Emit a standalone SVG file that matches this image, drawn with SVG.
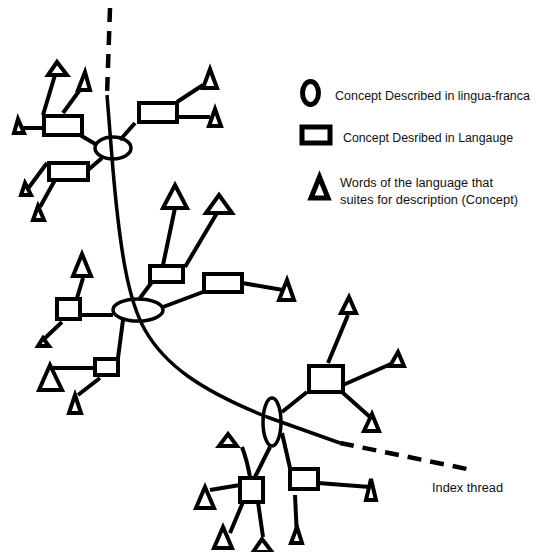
<svg xmlns="http://www.w3.org/2000/svg" width="536" height="552" viewBox="0 0 536 552">
<style>
.ln{stroke:#000;stroke-width:4;fill:none;stroke-linecap:butt}
.th{stroke:#000;stroke-width:3.5;fill:none}
.dash{stroke:#000;stroke-width:4.5;fill:none;stroke-dasharray:14 9}
.ell{fill:none;stroke:#000;stroke-width:3.5}
.rc{fill:#fff;stroke:#000;stroke-width:4}
.tri{fill:#fff;stroke:#000;stroke-width:4;stroke-linejoin:miter}
.txt{font-family:"Liberation Sans",Arial,sans-serif;font-size:12.5px;fill:#111}
</style>
<rect width="536" height="552" fill="#fff"/>
<g id="connectors">
<path class="dash" d="M110,8 L107,95"/>
<path class="th" d="M107,95 L113,170 C120,250 128,300 145,330 C165,365 200,390 267,417 L340,443"/>
<path class="dash" d="M340,443 L472,470"/>
<path class="ln" d="M80,135 L97,145 M135,123 L120,140 M88,170 L102,158 M43,115 L55,75 M63,113 L82,87 M18,128 L42,128 M177,102 L203,85 M177,117 L210,117 M47,163 L27,190 M55,180 L40,207"/>
<path class="ln" d="M140,298 L152,282 M163,265 L175,208 M185,267 L217,213 M163,307 L203,292 M242,283 L283,290 M80,315 L113,315 M77,298 L83,278 M62,322 L43,340 M123,320 L118,358 M93,368 L53,368 M100,378 L78,395"/>
<path class="ln" d="M282,412 L307,392 M328,363 L348,315 M343,385 L393,363 M342,392 L370,417 M270,447 L255,477 M242,447 Q247,460 250,477 M210,490 L240,485 M230,533 L243,502 M263,537 L258,502 M282,433 L290,468 M318,483 L370,487 M295,495 L297,537"/>
</g>
<g id="concept-top"><ellipse class="ell" cx="113" cy="148" rx="18" ry="11"/></g>
<g id="concept-middle"><ellipse class="ell" cx="138" cy="310" rx="25" ry="11"/></g>
<g id="concept-bottom"><ellipse class="ell" cx="272" cy="422" rx="9" ry="24"/></g>
<g id="rects">
<rect class="rc" x="44" y="116" width="38" height="19"/>
<rect class="rc" x="139" y="103" width="38" height="19"/>
<rect class="rc" x="49" y="163" width="39" height="17"/>
<rect class="rc" x="150" y="266" width="33" height="16"/>
<rect class="rc" x="204" y="274" width="38" height="18"/>
<rect class="rc" x="57" y="299" width="23" height="20"/>
<rect class="rc" x="95" y="359" width="23" height="16"/>
<rect class="rc" x="309" y="366" width="34" height="26"/>
<rect class="rc" x="240" y="478" width="23" height="24"/>
<rect class="rc" x="290" y="469" width="28" height="20"/>
</g>
<g id="words">
<polygon class="tri" points="57,62 67,75 48,75"/>
<polygon class="tri" points="85,72 90,90 78,90"/>
<polygon class="tri" points="18,119 24,133 14,133"/>
<polygon class="tri" points="210,69 217,88 203,88"/>
<polygon class="tri" points="215,109 221,126 209,126"/>
<polygon class="tri" points="25,183 31,195 21,195"/>
<polygon class="tri" points="38,206 44,220 33,220"/>
<polygon class="tri" points="175,185 187,208 163,208"/>
<polygon class="tri" points="219,195 232,213 206,213"/>
<polygon class="tri" points="287,280 294,300 279,300"/>
<polygon class="tri" points="82,254 91,276 73,276"/>
<polygon class="tri" points="43,338 49,346 38,346"/>
<polygon class="tri" points="50,365 62,390 39,390"/>
<polygon class="tri" points="75,395 81,413 69,413"/>
<polygon class="tri" points="349,297 356,313 341,313"/>
<polygon class="tri" points="398,352 404,366 390,366"/>
<polygon class="tri" points="372,414 379,431 364,431"/>
<polygon class="tri" points="228,434 237,446 219,446"/>
<polygon class="tri" points="205,487 214,508 196,508"/>
<polygon class="tri" points="223,527 232,548 214,548"/>
<polygon class="tri" points="262,539 272,552 253,552"/>
<polygon class="tri" points="371,479 376,500 366,500"/>
<polygon class="tri" points="297,527 302,543 291,543"/>
</g>
<g id="legend">
<ellipse cx="310.5" cy="93" rx="8" ry="11.5" fill="#fff" stroke="#000" stroke-width="5"/>
<text class="txt" x="335" y="100" textLength="195" lengthAdjust="spacingAndGlyphs">Concept Described in lingua-franca</text>
<rect x="302" y="127" width="28" height="16" fill="#fff" stroke="#000" stroke-width="5"/>
<text class="txt" x="343" y="142" textLength="170" lengthAdjust="spacingAndGlyphs">Concept Desribed in Langauge</text>
<polygon points="319.5,177 328,198 311,198" fill="#fff" stroke="#000" stroke-width="5"/>
<text class="txt" x="340" y="187" textLength="153" lengthAdjust="spacingAndGlyphs">Words of the language that</text>
<text class="txt" x="340" y="204" textLength="178" lengthAdjust="spacingAndGlyphs">suites for description (Concept)</text>
</g>
<g id="index-label"><text class="txt" x="432" y="492" textLength="71" lengthAdjust="spacingAndGlyphs">Index thread</text></g>
</svg>
